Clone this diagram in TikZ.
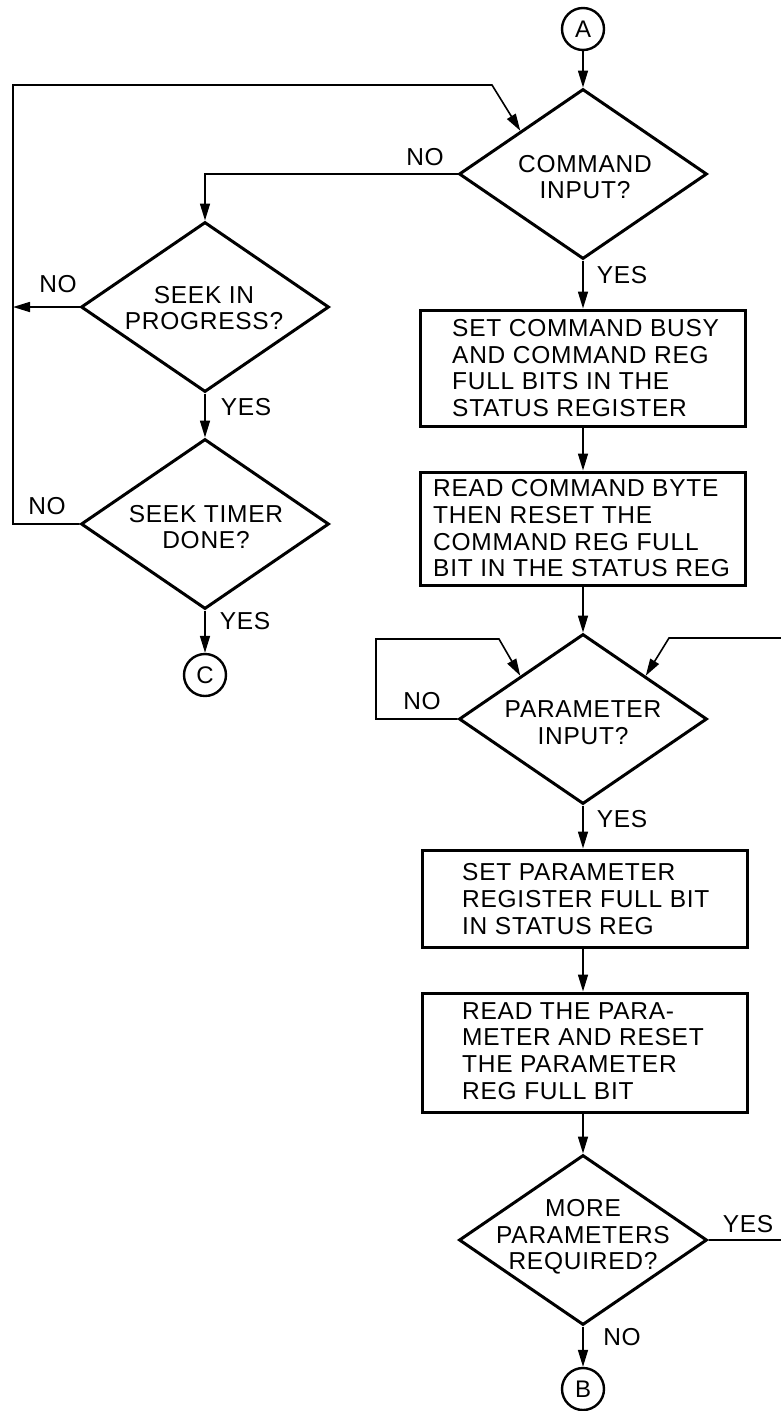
\documentclass[tikz,border=0pt]{standalone}
\usepackage{fontspec}
\setmainfont{Liberation Sans}[LetterSpace=3]
\usetikzlibrary{shapes.geometric,arrows.meta}
\tikzset{
  txt/.style={font=\fontsize{24.5}{26.7}\selectfont, inner sep=0pt},
  dec/.style={draw, diamond, line width=3pt, minimum width=248pt, minimum height=170pt, inner sep=0pt},
  procbox/.style={draw, rectangle, line width=3pt, minimum width=325pt, inner sep=0pt},
  conn/.style={draw, circle, line width=2.4pt, minimum size=42pt, inner sep=0pt, font=\fontsize{24}{26}\selectfont},
  flow/.style={line width=1.6pt, -{Triangle[length=17pt,width=10pt]}},
}
\begin{document}
\begin{tikzpicture}[x=1pt,y=-1pt]
\useasboundingbox (0,0) rectangle (780,1411);
\fill[white] (0,0) rectangle (780,1411);

% connectors
\node[conn] (A) at (583,29) {A};
\node[conn] (C) at (205,675) {C};
\node[conn] (B) at (583,1389) {B};

% decisions
\node[dec] (d1) at (583,174) {};
\node[txt, align=center] (d1t) at (585,177) {COMMAND\\INPUT?};
\node[dec] (d2) at (205,307) {};
\node[txt, align=center] (d2t) at (204,308) {SEEK IN\\PROGRESS?};
\node[dec] (d3) at (205,524) {};
\node[txt, align=center] (d3t) at (206,527) {SEEK TIMER\\DONE?};
\node[dec] (d4) at (583,719) {};
\node[txt, align=center] (d4t) at (583,723) {PARAMETER\\INPUT?};
\node[dec] (d5) at (583,1240) {};
\node[txt, align=center] (d5t) at (583,1237) {MORE\\PARAMETERS\\REQUIRED?};

% process boxes
\node[procbox, minimum height=116pt] (b1) at (583,368) {};
\node[txt, align=left, anchor=west] (b1t) at (452,368) {SET COMMAND BUSY\\AND COMMAND REG\\FULL BITS IN THE\\STATUS REGISTER};
\node[procbox, minimum height=113pt] (b2) at (583,528.5) {};
\node[txt, align=left, anchor=west] (b2t) at (433,528.5) {READ COMMAND BYTE\\THEN RESET THE\\COMMAND REG FULL\\BIT IN THE STATUS REG};
\node[procbox, minimum height=97pt] (b3) at (584.5,898.5) {};
\node[txt, align=left, anchor=west] (b3t) at (462,899) {SET PARAMETER\\REGISTER FULL BIT\\IN STATUS REG};
\node[procbox, minimum height=119pt] (b4) at (584.5,1052.5) {};
\node[txt, align=left, anchor=west] (b4t) at (462,1051) {READ THE PARA-\\METER AND RESET\\THE PARAMETER\\REG FULL BIT};

% branch labels
\node[txt] (n1) at (425,157) {NO};
\node[txt] (y1) at (622,275) {YES};
\node[txt] (n2) at (58,284) {NO};
\node[txt] (y2) at (246,407) {YES};
\node[txt] (n3) at (47,506) {NO};
\node[txt] (y3) at (245,621) {YES};
\node[txt] (n4) at (422,701) {NO};
\node[txt] (y4) at (622,819) {YES};
\node[txt] (y5) at (748,1224) {YES};
\node[txt] (n5) at (622,1337) {NO};

% loop coordinates
\coordinate (lt) at (13,85);
\coordinate (k1) at (492,85);
\coordinate (pl) at (376,639);
\coordinate (k2) at (499,639);
\coordinate (pr) at (783,638);
\coordinate (k3) at (669,638);

% main flow
\draw[flow] (A) -- (d1.north);
\draw[flow] (d1.south) -- (d1.south |- b1.north);
\draw[flow] (b1.south -| d1.south) -- (d1.south |- b2.north);
\draw[flow] (b2.south -| d1.south) -- (d4.north);
\draw[flow] (d4.south) -- (d4.south |- b3.north);
\draw[flow] (b3.south -| d4.south) -- (d4.south |- b4.north);
\draw[flow] (b4.south -| d4.south) -- (d5.north);
\draw[flow] (d5.south) -- (B);
\draw[flow] (d1.west) -| (d2.north);
\draw[flow] (d2.south) -- (d3.north);
\draw[flow] (d3.south) -- (C);
\draw[flow] (d2.west) -- (d2.west -| lt);
\draw[flow] (d3.west) -- (d3.west -| lt) -- (lt) -- (k1) -- (d1.north west);
\draw[flow] (d4.west) -- (d4.west -| pl) -- (pl) -- (k2) -- (d4.north west);
\draw[flow] (d5.east) -- (d5.east -| pr) -- (pr) -- (k3) -- (d4.north east);
\end{tikzpicture}
\end{document}
